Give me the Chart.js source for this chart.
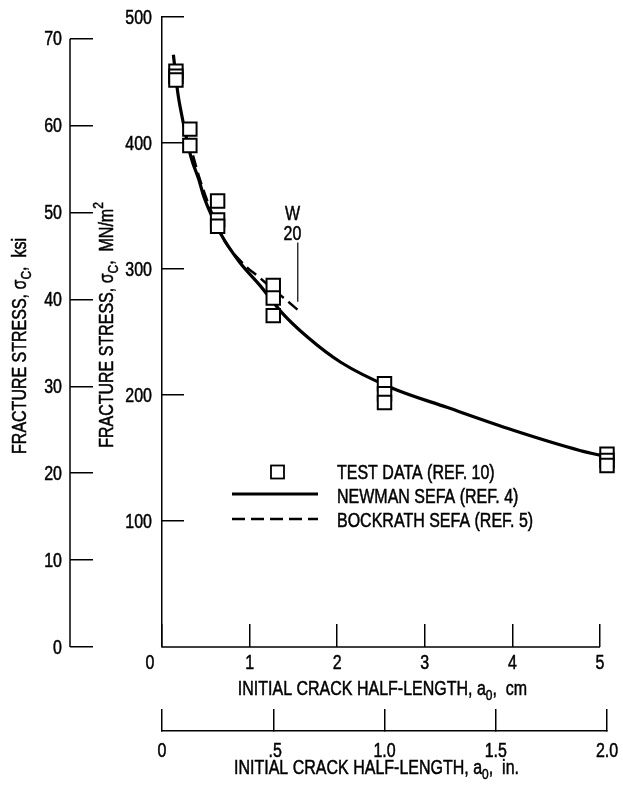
<!DOCTYPE html>
<html>
<head>
<meta charset="utf-8">
<script src="https://cdn.jsdelivr.net/npm/chart.js@4.4.0/dist/chart.umd.min.js"></script>
<style>
  html, body { margin: 0; padding: 0; background: #fff; }
</style>
</head>
<body>
<canvas id="fractureChart" width="623" height="790"></canvas>
<script>
const FONT = "'Liberation Sans', Arial, sans-serif";
const SIZE = 20;
const SX = 0.8; // squeeze to look like the condensed lettering of the original
const MN_PER_KSI = 6.895;

// test data (ref. 10): crack half-length in cm, fracture stress in MN/m^2
const testX = [0.159, 0.159, 0.159, 0.318, 0.318, 0.635, 0.635, 0.635, 1.27, 1.27, 1.27, 2.54, 2.54, 2.54, 5.08, 5.08, 5.08];
const testY = [457, 453, 450, 411, 398, 354, 339, 334, 287, 277, 263, 209, 201, 194, 153, 148, 144];

// Newman SEFA (ref. 4)
const newmanX = [0.13, 0.18, 0.22, 0.33, 0.42, 0.48, 0.67, 0.88, 1.13, 1.36, 1.66, 2.04, 2.61, 3.26, 4.01, 4.77, 5.08];
const newmanY = [470, 440, 424, 389, 371, 357, 328, 306, 286, 266, 246, 226, 206, 190, 172, 156, 151];

// Bockrath SEFA (ref. 5)
const bockrathX = [0.3, 0.42, 0.55, 0.7, 0.96, 1.1, 1.25, 1.39, 1.56];
const bockrathY = [404, 374, 348, 324, 302, 294, 285, 277, 267];

const cmTicks = [0, 1, 2, 3, 4, 5];
const cmTickLabels = ['0', '1', '2', '3', '4', '5'];
const inTicks = [0, 0.5, 1, 1.5, 2];
const inTickLabels = ['0', '.5', '1.0', '1.5', '2.0'];
const mnTicks = [100, 200, 300, 400, 500];
const mnTickLabels = ['100', '200', '300', '400', '500'];
const ksiTicks = [0, 10, 20, 30, 40, 50, 60, 70];
const ksiTickLabels = ['0', '10', '20', '30', '40', '50', '60', '70'];

const legendLabels = ['TEST DATA (REF. 10)', 'NEWMAN SEFA (REF. 4)', 'BOCKRATH SEFA (REF. 5)'];
const noteText = ['W', '20'];
const noteTextX = 1.49;
const noteTextY = [343, 327];
const noteLineX = 1.55;
const noteLineY = [321, 274];

function toPoints(xs, ys) {
  return xs.map((x, i) => ({ x: x, y: ys[i] }));
}

function condText(ctx, t, x, y, align) {
  ctx.save();
  ctx.translate(x, y);
  ctx.scale(SX, 1);
  ctx.font = SIZE + 'px ' + FONT;
  ctx.fillStyle = '#000';
  ctx.strokeStyle = '#000';
  ctx.lineWidth = 0.5;
  ctx.textAlign = align;
  ctx.textBaseline = 'middle';
  ctx.fillText(t, 0, 0);
  ctx.strokeText(t, 0, 0);
  ctx.restore();
}

function richText(ctx, parts, cx, cy, rot) {
  ctx.save();
  ctx.translate(cx, cy);
  ctx.rotate(rot);
  ctx.scale(SX, 1);
  ctx.fillStyle = '#000';
  ctx.strokeStyle = '#000';
  ctx.lineWidth = 0.5;
  ctx.textBaseline = 'middle';
  ctx.textAlign = 'left';
  let total = 0;
  parts.forEach(p => {
    ctx.font = (p.s ? 15 : SIZE) + 'px ' + FONT;
    p.w = ctx.measureText(p.t).width;
    total += p.w;
  });
  let x = -total / 2;
  parts.forEach(p => {
    ctx.font = (p.s ? 15 : SIZE) + 'px ' + FONT;
    const dy = p.s === 'sub' ? 7 : (p.s === 'sup' ? -8 : 0);
    ctx.fillText(p.t, x, dy);
    ctx.strokeText(p.t, x, dy);
    x += p.w;
  });
  ctx.restore();
}

const decor = {
  id: 'decor',
  afterDraw(chart) {
    const ctx = chart.ctx;
    const { x, xin, y, ksi } = chart.scales;
    const area = chart.chartArea;

    ctx.save();
    ctx.strokeStyle = '#000';
    ctx.lineWidth = 1.5;
    // ksi axis line only runs 0..70
    ctx.beginPath();
    ctx.moveTo(ksi.right, ksi.getPixelForValue(0));
    ctx.lineTo(ksi.right, ksi.getPixelForValue(70));
    ctx.stroke();
    // cm axis line only runs 0..5
    ctx.beginPath();
    ctx.moveTo(x.getPixelForValue(0), x.top);
    ctx.lineTo(x.getPixelForValue(5), x.top);
    ctx.stroke();

    // W/20 note
    ctx.lineWidth = 1.2;
    ctx.beginPath();
    ctx.moveTo(x.getPixelForValue(noteLineX), y.getPixelForValue(noteLineY[0]));
    ctx.lineTo(x.getPixelForValue(noteLineX), y.getPixelForValue(noteLineY[1]));
    ctx.stroke();
    noteText.forEach((t, i) => {
      condText(ctx, t, x.getPixelForValue(noteTextX), y.getPixelForValue(noteTextY[i]), 'center');
    });

    // legend
    const lx = area.left + 70;
    const tx = area.left + 175;
    const rows = [area.top + 455, area.top + 479, area.top + 503];
    ctx.lineWidth = 1.8;
    ctx.strokeRect(area.left + 109, rows[0] - 6.5, 13, 13);
    ctx.lineWidth = 3;
    ctx.beginPath();
    ctx.moveTo(lx, rows[1] - 2);
    ctx.lineTo(lx + 86, rows[1] - 2);
    ctx.stroke();
    ctx.lineWidth = 2.5;
    ctx.setLineDash([13, 6]);
    ctx.beginPath();
    ctx.moveTo(lx, rows[2] - 1);
    ctx.lineTo(lx + 86, rows[2] - 1);
    ctx.stroke();
    ctx.setLineDash([]);
    ctx.restore();
    legendLabels.forEach((t, i) => condText(ctx, t, tx, rows[i] + 1, 'left'));

    // tick labels, placed from the library scales
    mnTicks.forEach((v, i) => condText(ctx, mnTickLabels[i], y.right - 10, y.getPixelForValue(v) + 1, 'right'));
    ksiTicks.forEach((v, i) => condText(ctx, ksiTickLabels[i], ksi.right - 8, ksi.getPixelForValue(v) + 1, 'right'));
    cmTicks.forEach((v, i) => condText(ctx, cmTickLabels[i], x.getPixelForValue(v) - (i === 0 ? 12 : 0), x.top + 16, 'center'));
    inTicks.forEach((v, i) => condText(ctx, inTickLabels[i], xin.getPixelForValue(v) + (i === 1 ? 2 : 0), xin.top + 20, 'center'));

    // axis titles with sub/superscripts
    const midY = (area.top + area.bottom) / 2;
    richText(ctx, [{ t: 'FRACTURE STRESS, σ' }, { t: 'C', s: 'sub' }, { t: ',  ksi' }], ksi.left + 20, midY + 14, -Math.PI / 2);
    richText(ctx, [{ t: 'FRACTURE STRESS, σ' }, { t: 'C', s: 'sub' }, { t: ',  MN/m' }, { t: '2', s: 'sup' }], y.left + 37, midY - 7, -Math.PI / 2);
    const midX = (area.left + area.right) / 2;
    richText(ctx, [{ t: 'INITIAL CRACK HALF-LENGTH, a' }, { t: '0', s: 'sub' }, { t: ',  cm' }], midX - 2, x.top + 42, 0);
    richText(ctx, [{ t: 'INITIAL CRACK HALF-LENGTH, a' }, { t: '0', s: 'sub' }, { t: ',  in.' }], midX - 8, xin.top + 37, 0);
  }
};

const tickGrid = len => ({ drawOnChartArea: false, drawTicks: true, tickLength: len, color: '#000', lineWidth: 1.5 });

new Chart(document.getElementById('fractureChart').getContext('2d'), {
  type: 'scatter',
  data: {
    datasets: [
      {
        label: legendLabels[0],
        data: toPoints(testX, testY),
        showLine: false,
        pointStyle: 'rect',
        pointRadius: 9.5,
        pointBackgroundColor: '#fff',
        pointBorderColor: '#000',
        pointBorderWidth: 2,
        clip: false,
        order: 0,
        xAxisID: 'x',
        yAxisID: 'y'
      },
      {
        label: legendLabels[1],
        data: toPoints(newmanX, newmanY),
        showLine: true,
        borderColor: '#000',
        borderWidth: 3.2,
        pointRadius: 0,
        cubicInterpolationMode: 'monotone',
        clip: false,
        order: 1,
        xAxisID: 'x',
        yAxisID: 'y'
      },
      {
        label: legendLabels[2],
        data: toPoints(bockrathX, bockrathY),
        showLine: true,
        borderColor: '#000',
        borderWidth: 2.5,
        borderDash: [12, 6],
        pointRadius: 0,
        cubicInterpolationMode: 'monotone',
        clip: false,
        order: 2,
        xAxisID: 'x',
        yAxisID: 'y'
      }
    ]
  },
  options: {
    responsive: false,
    animation: false,
    layout: { padding: { top: 17, right: 16, left: 0, bottom: 0 } },
    plugins: { legend: { display: false }, tooltip: { enabled: false } },
    scales: {
      x: {
        type: 'linear', position: 'bottom', min: 0, max: 5.08, weight: 0,
        afterBuildTicks: s => { s.ticks = cmTicks.map(v => ({ value: v })); },
        afterFit: s => { s.height = 84; },
        border: { display: false },
        grid: tickGrid(-23),
        ticks: { display: false }
      },
      xin: {
        type: 'linear', position: 'bottom', min: 0, max: 2, weight: 1,
        afterBuildTicks: s => { s.ticks = inTicks.map(v => ({ value: v })); },
        afterFit: s => { s.height = 59; },
        border: { display: true, color: '#000', width: 1.5 },
        grid: tickGrid(-22),
        ticks: { display: false }
      },
      y: {
        type: 'linear', position: 'left', min: 0, max: 500, weight: 0,
        afterBuildTicks: s => { s.ticks = mnTicks.map(v => ({ value: v })); },
        afterFit: s => { s.width = 92; },
        border: { display: true, color: '#000', width: 1.5 },
        grid: tickGrid(-22),
        ticks: { display: false }
      },
      ksi: {
        type: 'linear', position: 'left', min: 0, max: 500 / MN_PER_KSI, weight: 1,
        afterBuildTicks: s => { s.ticks = ksiTicks.map(v => ({ value: v })); },
        afterFit: s => { s.width = 70; },
        border: { display: false },
        grid: tickGrid(-23),
        ticks: { display: false }
      }
    }
  },
  plugins: [decor]
});
</script>
</body>
</html>
